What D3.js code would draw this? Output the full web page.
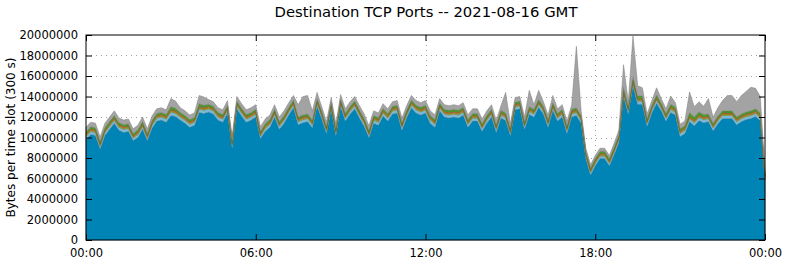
<!DOCTYPE html>
<html>
<head>
<meta charset="utf-8">
<script src="https://cdn.jsdelivr.net/npm/d3@7"></script>
<style>
body{margin:0;background:#fff}
svg{display:block;font-family:"DejaVu Sans",sans-serif}
</style>
</head>
<body>
<div id="chart"></div>
<script>
// values in millions of bytes per 10-minute sample, 00:00 .. 24:00
var blue = [
9.80,10.30,10.20,8.90,10.20,10.80,11.40,10.70,10.50,10.60,9.70,10.00,
10.80,9.70,10.90,11.60,11.70,11.50,12.15,12.05,11.70,11.40,11.00,11.20,
12.45,12.35,12.50,12.30,11.70,11.50,12.40,9.00,12.80,12.10,11.50,11.70,
12.00,9.90,10.60,11.00,12.00,10.80,11.40,12.20,12.90,11.25,11.45,11.55,
10.95,13.05,11.80,10.40,12.70,10.20,13.00,11.60,12.30,12.80,11.90,11.10,
10.00,11.40,11.20,12.10,11.60,12.30,12.40,10.70,11.90,12.90,12.40,12.20,
12.40,11.40,11.00,12.60,12.00,11.90,12.00,11.90,12.20,11.00,11.60,11.60,
10.60,11.40,12.00,10.50,11.90,11.65,10.20,12.70,12.80,10.80,12.25,12.00,
12.95,12.30,11.00,12.65,11.60,12.00,10.40,12.00,12.15,11.40,7.95,6.35,
7.25,7.95,7.95,7.25,8.35,9.50,14.05,12.30,15.05,13.25,13.25,11.10,
12.40,13.35,12.60,11.60,12.45,12.20,10.10,10.40,11.55,11.15,11.65,11.45,
11.55,10.65,11.35,11.85,11.85,11.85,11.25,11.55,11.75,11.85,12.05,11.65,
5.75];
var lightBlue = [
0.30,0.30,0.30,0.25,0.30,0.30,0.30,0.30,0.30,0.30,0.25,0.30,
0.30,0.25,0.30,0.30,0.30,0.30,0.35,0.30,0.30,0.30,0.30,0.30,
0.35,0.30,0.30,0.30,0.30,0.30,0.30,0.25,0.30,0.30,0.30,0.30,
0.30,0.25,0.30,0.30,0.30,0.30,0.30,0.30,0.30,0.30,0.30,0.30,
0.30,0.30,0.30,0.25,0.30,0.25,0.30,0.30,0.30,0.30,0.30,0.30,
0.25,0.30,0.30,0.30,0.30,0.30,0.30,0.30,0.30,0.30,0.30,0.30,
0.30,0.30,0.30,0.30,0.30,0.30,0.30,0.30,0.30,0.30,0.30,0.30,
0.30,0.30,0.30,0.30,0.30,0.30,0.25,0.30,0.30,0.30,0.30,0.30,
0.30,0.30,0.30,0.30,0.30,0.30,0.30,0.30,0.30,0.30,0.25,0.25,
0.25,0.25,0.25,0.25,0.25,0.30,0.30,0.30,0.30,0.30,0.30,0.30,
0.30,0.30,0.30,0.30,0.30,0.30,0.30,0.30,0.30,0.30,0.30,0.30,
0.30,0.30,0.30,0.30,0.30,0.30,0.30,0.30,0.30,0.30,0.30,0.30,
0.25];
var olive = [
0.15,0.15,0.15,0.15,0.15,0.15,0.15,0.15,0.15,0.15,0.15,0.15,
0.15,0.15,0.15,0.15,0.15,0.15,0.15,0.15,0.15,0.15,0.15,0.15,
0.15,0.15,0.15,0.15,0.15,0.15,0.15,0.15,0.15,0.15,0.15,0.15,
0.15,0.15,0.15,0.15,0.15,0.15,0.15,0.15,0.15,0.15,0.15,0.15,
0.15,0.15,0.15,0.15,0.15,0.15,0.15,0.15,0.15,0.15,0.15,0.15,
0.15,0.15,0.15,0.15,0.15,0.15,0.15,0.15,0.15,0.15,0.15,0.15,
0.15,0.15,0.15,0.15,0.15,0.15,0.15,0.15,0.15,0.15,0.15,0.15,
0.15,0.15,0.15,0.15,0.15,0.15,0.15,0.15,0.15,0.15,0.15,0.15,
0.15,0.15,0.15,0.15,0.15,0.15,0.15,0.15,0.15,0.15,0.15,0.15,
0.15,0.15,0.15,0.15,0.15,0.15,0.15,0.15,0.15,0.15,0.15,0.15,
0.15,0.15,0.15,0.15,0.15,0.15,0.15,0.15,0.15,0.15,0.15,0.15,
0.15,0.15,0.15,0.15,0.15,0.15,0.15,0.15,0.15,0.15,0.15,0.15,
0.15];
var orange = [
0.10,0.10,0.10,0.10,0.10,0.10,0.10,0.10,0.10,0.10,0.10,0.10,
0.10,0.10,0.10,0.10,0.10,0.10,0.10,0.10,0.10,0.10,0.10,0.10,
0.10,0.10,0.10,0.10,0.10,0.10,0.10,0.10,0.10,0.10,0.10,0.10,
0.10,0.10,0.10,0.10,0.10,0.10,0.10,0.10,0.10,0.10,0.10,0.10,
0.10,0.10,0.10,0.10,0.10,0.10,0.10,0.10,0.10,0.10,0.10,0.10,
0.10,0.10,0.10,0.10,0.10,0.10,0.10,0.10,0.10,0.10,0.10,0.10,
0.10,0.10,0.10,0.10,0.10,0.10,0.10,0.10,0.10,0.10,0.10,0.10,
0.10,0.10,0.10,0.10,0.10,0.10,0.10,0.10,0.10,0.10,0.10,0.10,
0.10,0.10,0.10,0.10,0.10,0.10,0.10,0.10,0.10,0.10,0.10,0.10,
0.10,0.10,0.10,0.10,0.10,0.10,0.10,0.10,0.10,0.10,0.10,0.10,
0.10,0.10,0.10,0.10,0.10,0.10,0.10,0.10,0.10,0.10,0.10,0.10,
0.10,0.10,0.10,0.10,0.10,0.10,0.10,0.10,0.10,0.10,0.10,0.10,
0.10];
var green = [
0.20,0.20,0.20,0.20,0.20,0.20,0.20,0.20,0.20,0.20,0.20,0.20,
0.20,0.20,0.20,0.20,0.20,0.20,0.25,0.25,0.20,0.20,0.20,0.20,
0.25,0.25,0.20,0.20,0.20,0.20,0.20,0.20,0.20,0.20,0.20,0.20,
0.20,0.20,0.20,0.20,0.20,0.20,0.20,0.20,0.20,0.20,0.20,0.20,
0.20,0.20,0.20,0.20,0.20,0.20,0.20,0.20,0.20,0.20,0.20,0.20,
0.20,0.20,0.20,0.20,0.20,0.20,0.20,0.20,0.20,0.20,0.20,0.20,
0.20,0.20,0.20,0.20,0.20,0.20,0.20,0.20,0.20,0.20,0.20,0.20,
0.20,0.20,0.20,0.20,0.20,0.20,0.20,0.20,0.20,0.20,0.20,0.20,
0.20,0.20,0.20,0.20,0.20,0.20,0.20,0.20,0.20,0.20,0.20,0.20,
0.20,0.20,0.20,0.20,0.20,0.20,0.30,0.20,0.30,0.25,0.25,0.20,
0.20,0.25,0.20,0.20,0.25,0.20,0.20,0.20,0.35,0.30,0.30,0.25,
0.20,0.20,0.20,0.20,0.20,0.20,0.20,0.20,0.20,0.20,0.20,0.20,
0.15];
var gray = [
0.45,0.45,0.45,0.45,0.45,0.45,0.45,0.45,0.45,0.45,0.45,0.45,
0.45,0.45,0.45,0.45,0.45,0.45,0.80,0.70,0.45,0.45,0.45,0.45,
0.80,0.80,0.45,0.45,0.45,0.45,0.45,0.45,0.45,0.45,0.45,0.45,
0.45,0.45,0.45,0.45,0.45,0.45,0.45,0.45,0.45,1.20,1.80,1.80,
0.90,0.60,0.45,0.45,0.45,0.45,0.45,0.45,0.45,0.45,0.45,0.45,
0.45,0.45,0.45,0.45,0.45,0.45,0.45,0.45,0.45,0.45,0.45,0.45,
0.45,0.45,0.45,0.45,0.45,0.45,0.45,0.45,0.45,0.45,0.45,0.45,
0.45,0.45,0.45,0.45,0.45,2.00,0.45,0.45,0.45,0.45,1.60,0.45,
0.90,0.45,0.45,0.70,0.45,0.45,0.45,0.45,6.00,0.45,0.30,0.30,
0.30,0.30,0.30,0.30,0.40,0.45,2.20,0.45,4.00,1.00,0.80,0.45,
0.45,0.70,0.45,0.45,0.80,0.45,0.45,0.45,2.00,1.00,1.00,0.80,
1.50,0.60,0.80,1.00,1.50,1.50,1.50,1.80,2.00,2.30,2.00,1.60,
0.30];

var seriesKeys = ['blue', 'lightBlue', 'olive', 'orange', 'green', 'gray'];
var seriesColors = ['#0083b5', '#7db9d6', '#9c9c2e', '#d2612f', '#4f9a2b', '#a3a3a3'];
var seriesValues = [blue, lightBlue, olive, orange, green, gray];
var yTicks = [0, 2e6, 4e6, 6e6, 8e6, 10e6, 12e6, 14e6, 16e6, 18e6, 20e6];
var xTicks = [0, 360, 720, 1080, 1440];
var xTickLabels = ['00:00', '06:00', '12:00', '18:00', '00:00'];

var width = 785, height = 264;
var margin = {top: 35, right: 20, bottom: 24, left: 86};
var plotW = width - margin.left - margin.right;
var plotH = height - margin.top - margin.bottom;

var rows = blue.map(function(v, i){
    var r = {minute: i * 10};
    seriesKeys.forEach(function(k, j){ r[k] = seriesValues[j][i] * 1e6; });
    return r;
});

var svg = d3.select('#chart').append('svg')
    .attr('width', width).attr('height', height);

svg.append('text')
    .attr('x', 426).attr('y', 17)
    .attr('text-anchor', 'middle')
    .style('font-size', '14.8px')
    .text('Destination TCP Ports -- 2021-08-16 GMT');

var g = svg.append('g').attr('transform', 'translate(' + margin.left + ',' + margin.top + ')');

var x = d3.scaleLinear().domain([0, 1440]).range([0, plotW]);
var y = d3.scaleLinear().domain([0, 20e6]).range([plotH, 0]);

// grid (behind the data)
g.append('g').selectAll('line.h')
    .data(yTicks.slice(1, -1)).enter().append('line')
    .attr('x1', 0).attr('x2', plotW)
    .attr('y1', function(d){ return Math.round(y(d)) + 0.5; })
    .attr('y2', function(d){ return Math.round(y(d)) + 0.5; })
    .attr('stroke', '#a0a0a0').attr('stroke-width', 1)
    .attr('stroke-dasharray', '1,4');
g.append('g').selectAll('line.v')
    .data(xTicks.slice(1, -1)).enter().append('line')
    .attr('y1', 0).attr('y2', plotH)
    .attr('x1', function(d){ return Math.round(x(d)) + 0.5; })
    .attr('x2', function(d){ return Math.round(x(d)) + 0.5; })
    .attr('stroke', '#a0a0a0').attr('stroke-width', 1)
    .attr('stroke-dasharray', '1,4');

var stacked = d3.stack().keys(seriesKeys)(rows);

var area = d3.area()
    .x(function(d){ return x(d.data.minute); })
    .y0(function(d){ return y(d[0]); })
    .y1(function(d){ return y(d[1]); });

g.append('g').selectAll('path')
    .data(stacked).enter().append('path')
    .attr('d', area)
    .attr('fill', function(d, i){ return seriesColors[i]; })
    .attr('stroke', function(d, i){ return d3.color(seriesColors[i]).darker(0.7); })
    .attr('stroke-width', 0.5);

// axes with inward ticks, mirrored
var yAxisL = d3.axisLeft(y).tickValues(yTicks).tickSize(-6).tickPadding(8)
    .tickFormat(function(d){ return d3.format('d')(d); });
var yAxisR = d3.axisRight(y).tickValues(yTicks).tickSize(-6).tickFormat('');
var xAxisB = d3.axisBottom(x).tickValues(xTicks).tickSize(-6).tickPadding(9)
    .tickFormat(function(d, i){ return xTickLabels[i]; });
var xAxisT = d3.axisTop(x).tickValues(xTicks).tickSize(-6).tickFormat('');

[g.append('g').call(yAxisL),
 g.append('g').attr('transform', 'translate(' + plotW + ',0)').call(yAxisR),
 g.append('g').attr('transform', 'translate(0,' + plotH + ')').call(xAxisB),
 g.append('g').call(xAxisT)].forEach(function(ax){
    ax.selectAll('.domain').remove();
    ax.selectAll('line').attr('stroke', '#000');
    ax.selectAll('text').attr('fill', '#000')
        .style('font-family', '"DejaVu Sans", sans-serif').style('font-size', '11.5px');
});

g.append('rect')
    .attr('x', 0).attr('y', 0).attr('width', plotW).attr('height', plotH)
    .attr('fill', 'none').attr('stroke', '#000').attr('stroke-width', 1);

svg.append('text')
    .attr('transform', 'translate(15,' + (margin.top + plotH / 2) + ') rotate(-90)')
    .attr('text-anchor', 'middle')
    .style('font-size', '12px')
    .text('Bytes per time slot (300 s)');
</script>
</body>
</html>
